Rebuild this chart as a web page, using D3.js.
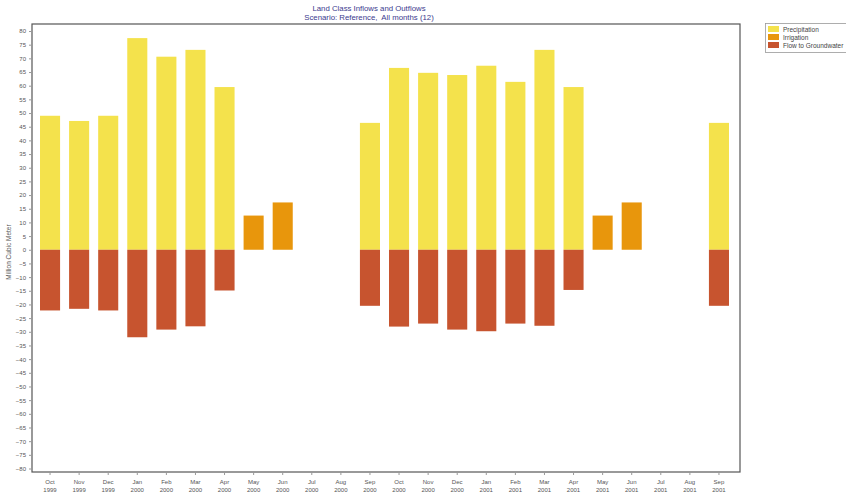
<!DOCTYPE html>
<html><head><meta charset="utf-8">
<script src="https://cdn.jsdelivr.net/npm/d3@7"></script>
<style>body{margin:0;background:#fff;}svg{display:block;font-family:"Liberation Sans",Arial,sans-serif;}</style>
</head><body>
<svg id="c" width="846" height="493"></svg>
<script>
const months = ["Oct","Nov","Dec","Jan","Feb","Mar","Apr","May","Jun","Jul","Aug","Sep",
                "Oct","Nov","Dec","Jan","Feb","Mar","Apr","May","Jun","Jul","Aug","Sep"];
const years = ["1999","1999","1999","2000","2000","2000","2000","2000","2000","2000","2000","2000",
               "2000","2000","2000","2001","2001","2001","2001","2001","2001","2001","2001","2001"];
const precipitation = [49,47.1,49,77.4,70.6,73.1,59.5,0,0,0,0,46.4,
                       66.5,64.7,63.9,67.3,61.4,73.1,59.5,0,0,0,0,46.4];
const irrigation = [0,0,0,0,0,0,0,12.5,17.3,0,0,0,
                    0,0,0,0,0,0,0,12.5,17.3,0,0,0];
const flowToGroundwater = [-22.2,-21.6,-22.2,-32.0,-29.2,-28.0,-14.9,0,0,0,0,-20.5,
                           -28.1,-27.0,-29.2,-29.8,-27.0,-27.8,-14.7,0,0,0,0,-20.5];
const seriesNames = ["Precipitation","Irrigation","Flow to Groundwater"];
const colors = ["#F4E24C","#E8960C","#C7542F"];
const yTicks = d3.range(-80, 81, 5);
const titleLines = ["Land Class Inflows and Outflows","Scenario: Reference,  All months (12)"];
const yLabel = "Million Cubic Meter";

const svg = d3.select("#c");
const frame = {l:32, t:24, r:740, b:472};
const keys = months.map((m,i)=>i);
const x = d3.scaleBand().domain(keys).range([35.5, 733.5]).paddingInner(0.31).paddingOuter(0.155);
const y = d3.scaleLinear().domain([-80,80]).range([468.5,31]);

// frame
svg.append("rect").attr("x",frame.l).attr("y",frame.t).attr("width",frame.r-frame.l).attr("height",frame.b-frame.t)
  .attr("fill","none").attr("stroke","#555").attr("stroke-width",1.2);

const series = [precipitation, irrigation, flowToGroundwater];
series.forEach((vals, si) => {
  svg.append("g").selectAll("rect").data(vals.map((v,i)=>({v,i})).filter(d=>d.v!==0))
    .join("rect")
    .attr("x", d=>x(d.i)).attr("width", x.bandwidth())
    .attr("y", d=>y(Math.max(0,d.v))).attr("height", d=>Math.abs(y(d.v)-y(0)))
    .attr("fill", colors[si]);
});

// y axis
const yAxis = svg.append("g").attr("transform",`translate(${frame.l},0)`)
  .call(d3.axisLeft(y).tickValues(yTicks).tickSize(3).tickPadding(3));
yAxis.select(".domain").remove();
yAxis.selectAll("line").attr("stroke","#999");
yAxis.selectAll("text").attr("font-size","6px").attr("fill","#555").attr("font-family","Liberation Sans, Arial, sans-serif");

// x axis
const xAxis = svg.append("g").attr("transform",`translate(0,${frame.b})`)
  .call(d3.axisBottom(x).tickSize(3).tickFormat(""));
xAxis.select(".domain").remove();
xAxis.selectAll("line").attr("stroke","#999");
const xl = svg.append("g").selectAll("text").data(keys).join("text")
  .attr("x", d=>x(d)+x.bandwidth()/2).attr("text-anchor","middle")
  .attr("font-size","6px").attr("fill","#555");
xl.append("tspan").attr("x", d=>x(d)+x.bandwidth()/2).attr("y",484).text(d=>months[d]);
xl.append("tspan").attr("x", d=>x(d)+x.bandwidth()/2).attr("y",492).text(d=>years[d]);

// y label
svg.append("text").attr("transform","translate(11,252) rotate(-90)").attr("text-anchor","middle")
  .attr("font-size","6.5px").attr("fill","#555").text(yLabel);

// title
svg.append("g").selectAll("text").data(titleLines).join("text")
  .attr("x",369).attr("y",(d,i)=>11+i*9).attr("text-anchor","middle")
  .attr("font-size","7.8px").attr("fill","#3A3A8E").style("white-space","pre").text(d=>d);

// legend
const lg = svg.append("g");
lg.append("rect").attr("x",765.5).attr("y",23.5).attr("width",100).attr("height",29)
  .attr("fill","#fff").attr("stroke","#999").attr("stroke-width",0.8);
seriesNames.forEach((n,i)=>{
  lg.append("rect").attr("x",768).attr("y",26+i*8).attr("width",11).attr("height",6).attr("fill",colors[i]);
  lg.append("text").attr("x",783).attr("y",31.5+i*8).attr("font-size","6.5px").attr("fill","#444").text(n);
});
</script>
</body></html>
